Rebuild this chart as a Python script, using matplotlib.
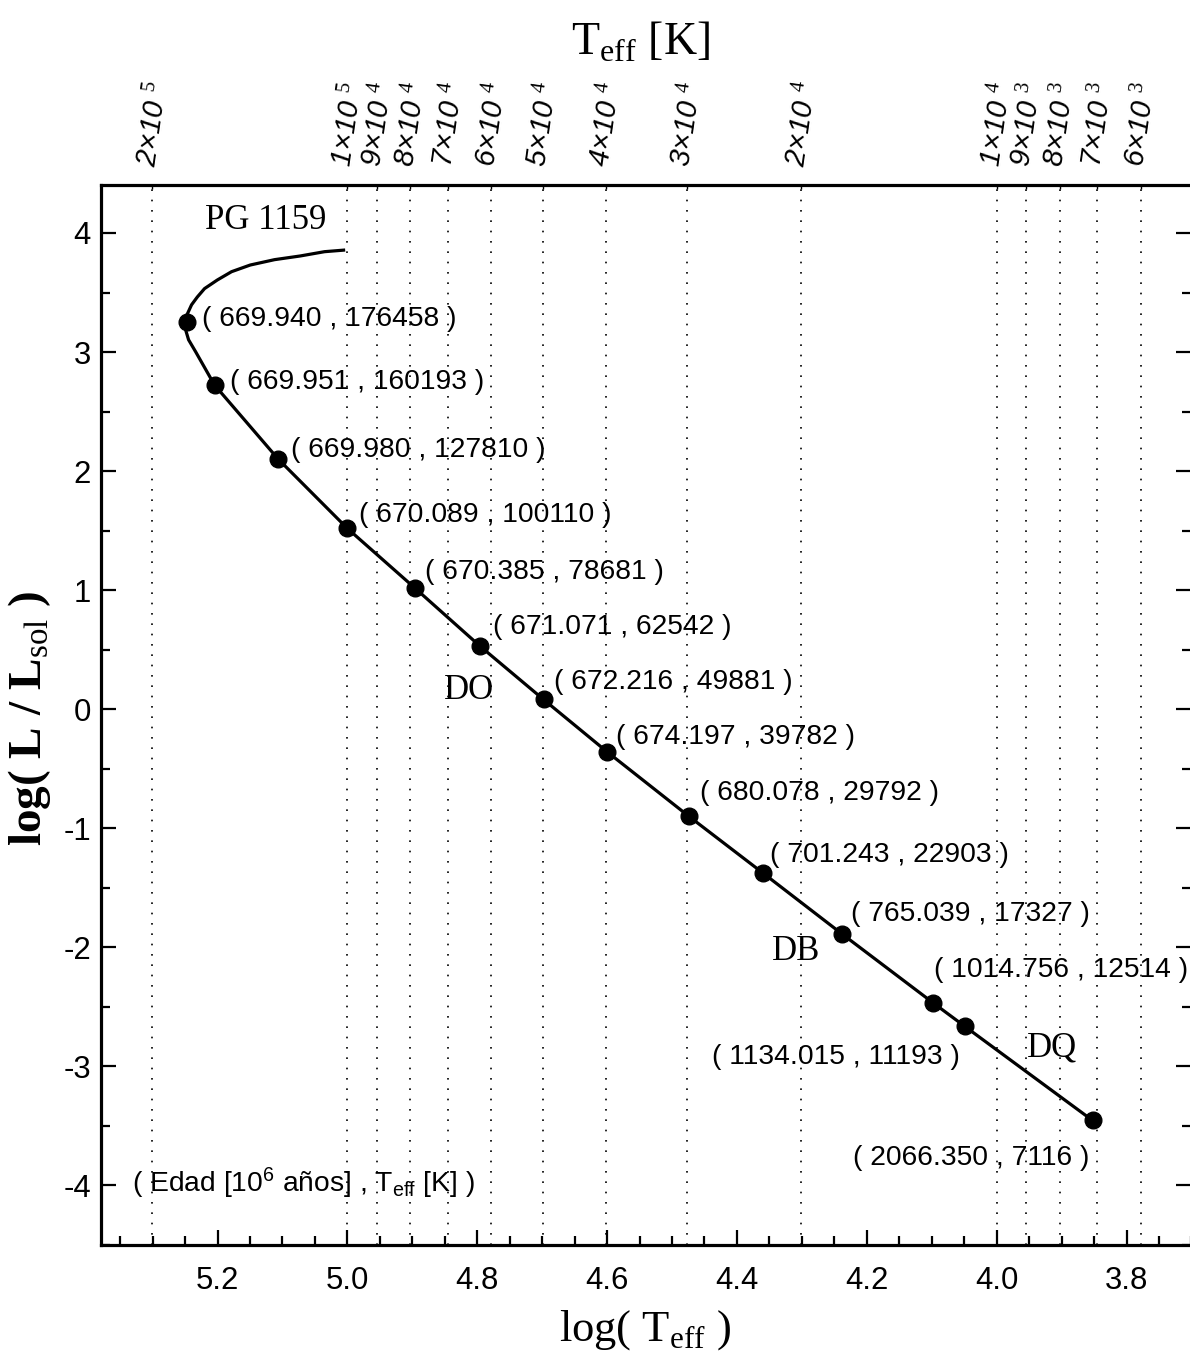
import numpy as np
import matplotlib
matplotlib.use("Agg")
import matplotlib.pyplot as plt
from matplotlib import font_manager as fm
from matplotlib.ticker import MultipleLocator, FixedLocator

# ---------------- data ----------------
# cooling-track points with labels (age [10^6 yr], Teff [K]) and log(L/Lsun)
ages = [669.940, 669.951, 669.980, 670.089, 670.385, 671.071, 672.216,
        674.197, 680.078, 701.243, 765.039, 1014.756, 1134.015, 2066.350]
teffs = [176458, 160193, 127810, 100110, 78681, 62542, 49881,
         39782, 29792, 22903, 17327, 12514, 11193, 7116]
logL = [3.252, 2.723, 2.101, 1.521, 1.017, 0.532, 0.082,
        -0.359, -0.899, -1.376, -1.885, -2.468, -2.664, -3.454]

# upper (PG 1159) part of the track
track_top_logT = [5.0034, 5.0352, 5.0726, 5.1122, 5.1496, 5.1784, 5.2004,
                  5.2200, 5.2312, 5.2400, 5.2492]
track_top_logL = [3.857, 3.843, 3.807, 3.776, 3.731, 3.675, 3.605,
                  3.533, 3.462, 3.397, 3.288]
# the bend between the first two marked points
bend_logT = [5.2492, 5.2446, 5.2338, 5.2215]
bend_logL = [3.187, 3.103, 3.003, 2.885]

# top axis: Teff ticks
top_mant = [2, 1, 9, 8, 7, 6, 5, 4, 3, 2, 1, 9, 8, 7, 6]
top_exp = [5, 5, 4, 4, 4, 4, 4, 4, 4, 4, 4, 3, 3, 3, 3]

xticks_bottom = [5.2, 5.0, 4.8, 4.6, 4.4, 4.2, 4.0, 3.8]
yticks_left = [4, 3, 2, 1, 0, -1, -2, -3, -4]

# ---------------- fonts ----------------
def has_font(name):
    try:
        fm.findfont(fm.FontProperties(family=name), fallback_to_default=False)
        return True
    except Exception:
        return False

if has_font('Liberation Sans Narrow'):
    NARROW = 'Liberation Sans Narrow'
    nscale = 1.0
else:
    NARROW = 'Liberation Sans'
    nscale = 0.83
SERIF = 'Liberation Serif'

plt.rcParams['mathtext.fontset'] = 'custom'
plt.rcParams['mathtext.rm'] = SERIF
plt.rcParams['mathtext.sf'] = NARROW
plt.rcParams['mathtext.it'] = 'Liberation Sans:italic'
plt.rcParams['mathtext.bf'] = SERIF + ':bold'

LAB_FS = 24.5 * nscale
TICK_FS = 27 * nscale

# ---------------- figure ----------------
fig = plt.figure(figsize=(11.90, 13.68), dpi=100)
ax = fig.add_axes([0.0846, 0.0899, 0.9166, 0.7746])
xmin, xmax = 5.38, 3.70
ax.set_xlim(xmin, xmax)
ax.set_ylim(-4.5, 4.4)

logT_pts = np.log10(np.array(teffs, dtype=float))

# dotted vertical lines at top-axis temperatures
top_vals = np.array([m * 10.0 ** e for m, e in zip(top_mant, top_exp)])
for v in np.log10(top_vals):
    ax.axvline(v, color='black', lw=1.2, ls=(0, (1, 5.2)), zorder=1)

# track line
line_x = list(track_top_logT) + [logT_pts[0]] + bend_logT + list(logT_pts[1:])
line_y = list(track_top_logL) + [logL[0]] + bend_logL + list(logL[1:])
ax.plot(line_x, line_y, color='black', lw=2.3, zorder=3,
        solid_capstyle='butt', solid_joinstyle='round')
ax.plot(logT_pts, logL, 'o', color='black', ms=12, zorder=4)

# point labels
offsets = [(15, 3), (15, 3), (13, 9), (12, 13), (10, 16), (13, 19), (10, 17),
           (9, 15), (11, 23), (7, 18), (9, 20), (1, 33), (-5, -31), (-3, -38)]
for i, (a, t) in enumerate(zip(ages, teffs)):
    dx, dy = offsets[i]
    ha = 'right' if dx < 0 else 'left'
    ax.annotate(f"( {a:.3f} , {t} )", (logT_pts[i], logL[i]),
                xytext=(dx, dy), textcoords='offset pixels',
                ha=ha, va='center', fontsize=LAB_FS, family=NARROW, zorder=5)

# region names
ax.text(5.126, 4.103, 'PG 1159', family=SERIF, fontsize=25, ha='center', va='center')
ax.text(4.812, 0.16, 'DO', family=SERIF, fontsize=25, ha='center', va='center')
ax.text(4.309, -2.037, 'DB', family=SERIF, fontsize=25, ha='center', va='center')
ax.text(3.914, -2.849, 'DQ', family=SERIF, fontsize=25, ha='center', va='center')
ax.text(5.331, -3.981, r'( Edad [10$^{\mathsf{6}}$ años] , T$_{\mathsf{eff}}$ [K] )',
        family=NARROW, fontsize=LAB_FS, ha='left', va='center')

# axes styling
for s in ['left', 'bottom', 'top']:
    ax.spines[s].set_linewidth(2.3)
ax.spines['right'].set_visible(False)

ax.xaxis.set_major_locator(FixedLocator(xticks_bottom))
ax.xaxis.set_minor_locator(MultipleLocator(0.05))
ax.yaxis.set_major_locator(FixedLocator(yticks_left))
ax.yaxis.set_minor_locator(MultipleLocator(0.5))
ax.set_xticklabels([f"{v:.1f}" for v in xticks_bottom])
ax.set_yticklabels([f"{v}" for v in yticks_left])
ax.tick_params(axis='both', which='major', direction='in', length=11, width=1.6,
               labelsize=TICK_FS)
ax.tick_params(axis='both', which='minor', direction='in', length=6.5, width=1.6)
ax.tick_params(axis='x', which='both', top=False, bottom=True, pad=15)
ax.tick_params(axis='y', which='both', left=True, right=True, pad=7)
for lab in ax.get_xticklabels() + ax.get_yticklabels():
    lab.set_family(NARROW)

# top axis
ax2 = ax.twiny()
ax2.set_xlim(xmin, xmax)
ax2.set_xticks(np.log10(top_vals))
ax2.set_xticklabels([f"{m}×10 $^{{\\mathit{{{e}}}}}$" for m, e in zip(top_mant, top_exp)],
                    rotation=82, fontsize=21, family='Liberation Sans', style='italic')
ax2.tick_params(axis='x', direction='in', length=3, width=1.0, pad=12)
ax2.xaxis.set_minor_locator(FixedLocator([]))
for s in ax2.spines.values():
    s.set_visible(False)
ax2.tick_params(axis='y', left=False, right=False)

# axis titles
fig.text(645 / 1190, 1 - 1330 / 1368, r'log( T$_{\rm eff}$ )', family=SERIF,
         fontsize=32, ha='center', va='center')
fig.text(640 / 1190, 1 - 42 / 1368, r'T$_{\rm eff}$ [K]', family=SERIF,
         fontsize=33, ha='center', va='center')
fig.text(30 / 1190, 1 - 718 / 1368, r'log( L / L$_{\rm sol}$ )', family=SERIF,
         fontsize=34, fontweight='bold', rotation=90, ha='center', va='center')

fig.savefig('out.png', dpi=100)
